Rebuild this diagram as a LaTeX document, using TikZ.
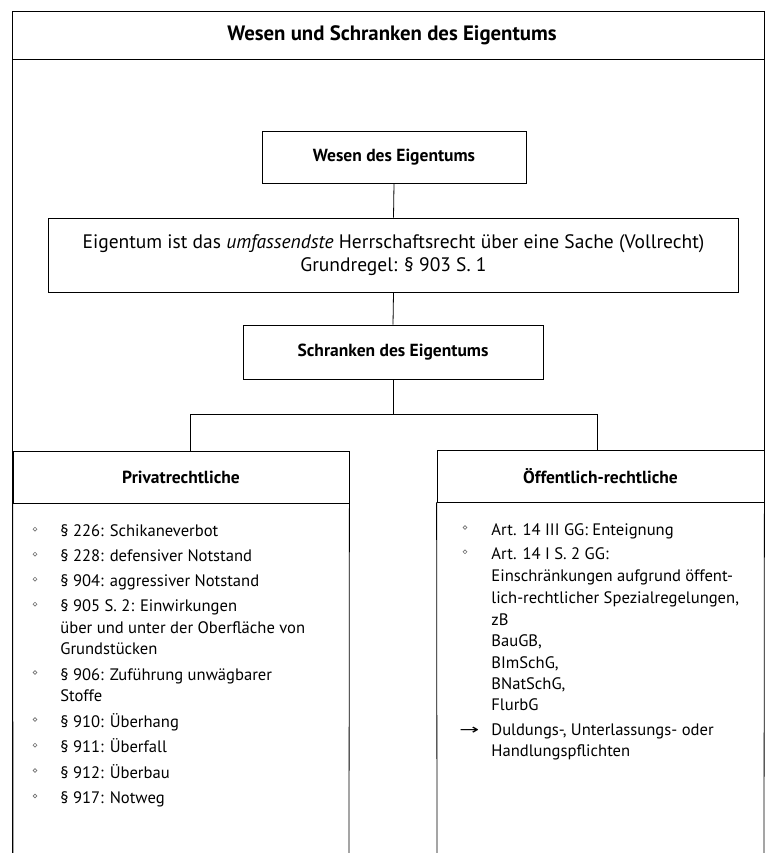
\documentclass[tikz,border=0pt]{standalone}
\usepackage{fontspec}
\usepackage{graphicx}
\setmainfont{PT Sans}
\newfontfamily\symfont{DejaVu Sans}
\begin{document}
\begin{tikzpicture}[x=1pt,y=-1pt,
  every path/.style={line width=0.8pt},
  box/.style={draw, line width=0.8pt, inner sep=0pt, align=center},
  head/.style={font=\bfseries\fontsize{17.5}{21}\selectfont},
  lt/.style={anchor=base west, inner sep=0pt, font=\fontsize{16.6}{21.5}\selectfont},
  bul/.style={circle, draw=black!55, line width=0.6pt, inner sep=0pt, minimum size=3.8pt},
]
\useasboundingbox (0,0) rectangle (767,853);
% outer frame
\draw (12,853) -- (12,11) -- (764,11) -- (764,450);
\draw (12,59) -- (764,59);
\node[anchor=base, inner sep=0pt, font=\bfseries\fontsize{20.8}{24}\selectfont] (title) at (392,41) {Wesen und Schranken des Eigentums};

\node[box, head, minimum width=264pt, minimum height=52pt] (wesen) at (394,157) {Wesen des Eigentums};
\node[box, minimum width=690pt, minimum height=74pt, font=\fontsize{19.5}{23}\selectfont] (def) at (393.5,255)
  {Eigentum ist das \textit{umfassendste} Herrschaftsrecht über eine Sache (Vollrecht)\\Grundregel: § 903 S.~1};
\node[box, head, minimum width=300pt, minimum height=54pt] (schr) at (393,352) {Schranken des Eigentums};

\node[box, head, minimum width=336pt, minimum height=52pt] (priv) at (181,477) {Privatrechtliche};
\node[box, head, minimum width=327pt, minimum height=52pt] (oeff) at (600.5,476) {Öffentlich-rechtliche};
\coordinate (pb) at (13,853);
\coordinate (pr) at (349,853);
\coordinate (ob) at (437,853);
\coordinate (or) at (764,853);
\draw (priv.south west) -- (pb);
\draw (priv.south east) -- (pr);
\draw (oeff.south west) -- (ob);
\draw (oeff.south east) -- (or);

% connectors
\draw (wesen.south) -- (def.north);
\draw (def.south) -- (schr.north);
\coordinate (j) at (393,414);
\draw (schr.south) -- (j);
\draw (j) -| ([xshift=9pt]priv.north);
\draw (j) -| ([xshift=-3.5pt]oeff.north);

% left list
\node[lt] (l1) at (60,536.7) {§ 226: Schikaneverbot};
\node[lt] (l2) at (60,561.7) {§ 228: defensiver Notstand};
\node[lt] (l3) at (60,586.7) {§ 904: aggressiver Notstand};
\node[lt] (l4) at (60,611.7) {§ 905 S. 2: Einwirkungen};
\node[lt] (l4b) at (60,633.2) {über und unter der Oberfläche von};
\node[lt] (l4c) at (60,654.7) {Grundstücken};
\node[lt] (l5) at (60,680) {§ 906: Zuführung unwägbarer};
\node[lt] (l5b) at (60,701.5) {Stoffe};
\node[lt] (l6) at (60,727) {§ 910: Überhang};
\node[lt] (l7) at (60,752.7) {§ 911: Überfall};
\node[lt] (l8) at (60,778) {§ 912: Überbau};
\node[lt] (l9) at (60,803.5) {§ 917: Notweg};
\foreach \n/\y in {1/536.7,2/561.7,3/586.7,4/611.7,5/680,6/727,7/752.7,8/778,9/803.5}
  \node[bul] (bl\n) at (35,\y-7.5) {};

% right list
\node[lt] (r1) at (491,535) {Art. 14 III GG: Enteignung};
\node[lt] (r2) at (491,559.3) {Art. 14 I S. 2 GG:};
\node[lt] (r2b) at (491,581.5) {Einschränkungen aufgrund öffent-};
\node[lt] (r2c) at (491,603.5) {lich-rechtlicher Spezialregelungen,};
\node[lt] (r2d) at (491,625) {zB};
\node[lt] (r2e) at (491,646.7) {BauGB,};
\node[lt] (r2f) at (491,668.2) {BImSchG,};
\node[lt] (r2g) at (491,689.5) {BNatSchG,};
\node[lt] (r2h) at (491,710.5) {FlurbG};
\node[lt] (r3) at (491,735) {Duldungs-, Unterlassungs- oder};
\node[lt] (r3b) at (491,756.5) {Handlungspflichten};
\node[bul] (br1) at (465,527.5) {};
\node[bul] (br2) at (465,551.8) {};
\node[anchor=base west, inner sep=0pt, font=\symfont\fontsize{14}{18}\selectfont] (arr) at (459,734) {\scalebox{1.7}[1]{→}};
\end{tikzpicture}
\end{document}
